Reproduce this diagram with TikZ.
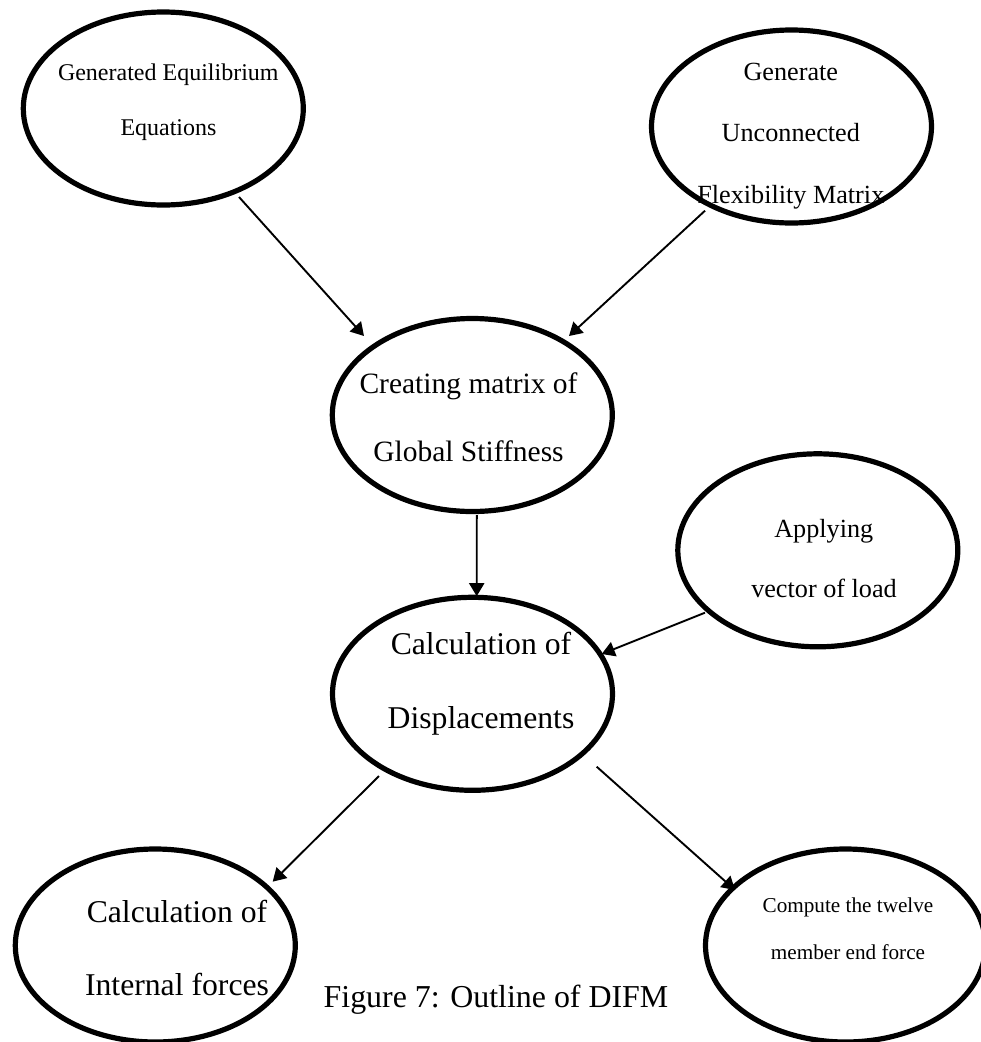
\documentclass[tikz,border=0pt]{standalone}
\usepackage{fontspec}
\setmainfont{Liberation Serif}
\usetikzlibrary{arrows.meta,calc,shapes.geometric}
\begin{document}
\begin{tikzpicture}[x=1pt,y=-1pt,
  oval/.style={ellipse,draw,line width=5.2pt,minimum width=280pt,minimum height=193pt,inner sep=0pt},
  conn/.style={line width=1.9pt,-{Triangle[length=13pt,width=15pt]}},
  lbl/.style={anchor=base,inner sep=0pt},
  fa/.style={font=\fontsize{24}{28}\selectfont},
  fb/.style={font=\fontsize{26.2}{30}\selectfont},
  fc/.style={font=\fontsize{29.5}{34}\selectfont},
  fd/.style={font=\fontsize{31.7}{36}\selectfont},
  fe/.style={font=\fontsize{21.2}{25}\selectfont}]
\useasboundingbox (0,0) rectangle (981,1042);

% process steps
\node[oval] (equil) at (163.3,108.5) {};
\node[oval] (flex)  at (791.5,126.5) {};
\node[oval] (stiff) at (472.3,415) {};
\node[oval] (load)  at (817.8,550.3) {};
\node[oval] (disp)  at (472.5,693.8) {};
\node[oval] (intf)  at (155.3,945.5) {};
\node[oval] (endf)  at (845.5,945.5) {};

% step texts
\node[lbl,fa] (equil1) at (168.3,80)  {Generated Equilibrium};
\node[lbl,fa] (equil2) at (168.5,135) {Equations};

\node[lbl,fb] (flex1) at (790.8,80)    {Generate};
\node[lbl,fb] (flex2) at (790.8,141.7) {Unconnected};
\node[lbl,fb] (flex3) at (790.8,203.3) {Flexibility Matrix};

\node[lbl,fc] (stiff1) at (468.5,393.3) {Creating matrix of};
\node[lbl,fc] (stiff2) at (468.5,461)   {Global Stiffness};

\node[lbl,fb] (load1) at (823.8,537) {Applying};
\node[lbl,fb] (load2) at (824,597)   {vector of load};

\node[lbl,fd] (disp1) at (481,654) {Calculation of};
\node[lbl,fd] (disp2) at (481,728) {Displacements};

\node[lbl,fd] (intf1) at (177,922) {Calculation of};
\node[lbl,fd] (intf2) at (177,995) {Internal forces};

\node[lbl,fe] (endf1) at (848,912) {Compute the twelve};
\node[lbl,fe] (endf2) at (848,959) {member end force};

% caption
\node[lbl,font=\fontsize{31.9}{36}\selectfont] (caption) at (496,1007) {Figure 7: Outline of DIFM};

% flow
\draw[conn] ($(equil.center)+(75.7,88.5)$) -- ($(stiff.center)+(-108.3,-79)$);
\draw[conn] ($(flex.center)+(-86.5,84.2)$) -- ($(stiff.center)+(96.7,-79)$);
\draw[conn] ($(stiff.center)+(4.5,100)$) -- ($(disp.center)+(4.2,-97.6)$);
\draw[conn] ($(load.center)+(-112.8,62.4)$) -- ($(disp.center)+(129.2,-39.8)$);
\draw[conn] ($(disp.center)+(-93.5,82.2)$) -- ($(intf.center)+(117.4,-63.8)$);
\draw[conn] ($(disp.center)+(124.2,72.9)$) -- ($(endf.center)+(-110.5,-55.5)$);
\end{tikzpicture}
\end{document}
